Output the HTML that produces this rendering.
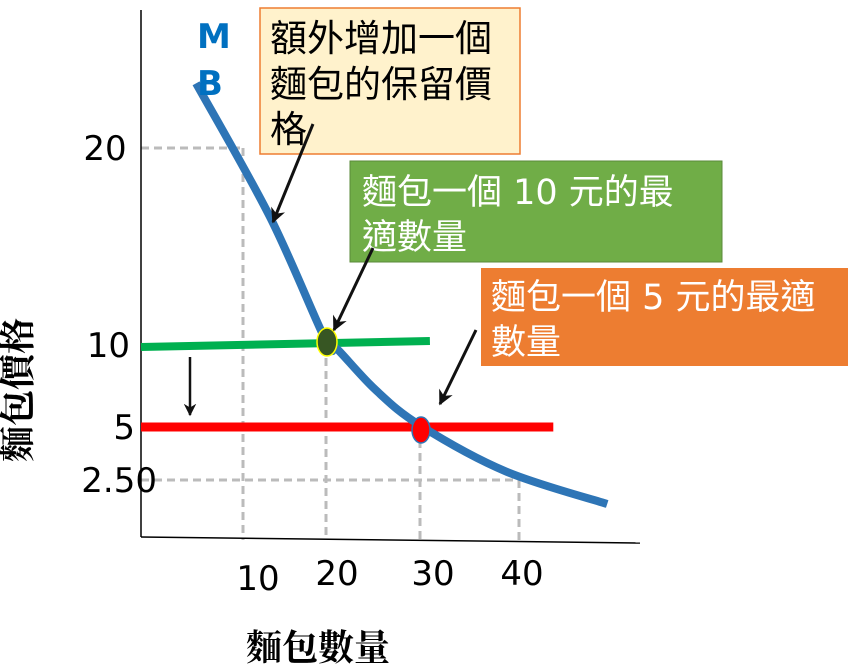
<!DOCTYPE html>
<html><head><meta charset="utf-8"><style>
body{margin:0;background:#fff;width:860px;height:666px;overflow:hidden}
svg text{font-family:"DejaVu Sans","Noto Sans CJK TC",sans-serif}
</style></head><body>
<svg id="c" width="860" height="666">
<defs><marker id="ah" viewBox="0 0 10 10" refX="9" refY="5" markerWidth="5" markerHeight="5" orient="auto"><path d="M0,0 L10,5 L0,10 L3,5z" fill="#111"/></marker></defs>
<g id="grid"></g>
<line x1="141" y1="10" x2="141" y2="537" stroke="#000" stroke-width="1.5"/>
<line x1="141" y1="537" x2="640" y2="543" stroke="#000" stroke-width="1.5"/>
<g id="marks"></g>
<rect x="260" y="8" width="260" height="146" fill="#fff2cc" stroke="#ed7d31" stroke-width="1.5"/>
<text font-size="37" fill="#000"><tspan x="270" y="51">額外增加一個</tspan><tspan x="270" y="97">麵包的保留價</tspan><tspan x="270" y="142">格</tspan></text>
<rect x="350" y="161" width="372" height="101" fill="#70ad47" stroke="#5a8a3a"/>
<text font-size="35" fill="#fff"><tspan x="362" y="204">麵包一個 10 元的最</tspan><tspan x="362" y="249">適數量</tspan></text>
<rect x="481" y="268" width="367" height="98" fill="#ed7d31"/>
<text font-size="35" fill="#fff"><tspan x="491" y="309">麵包一個 5 元的最適</tspan><tspan x="491" y="354">數量</tspan></text>
<text x="197" y="48" font-size="34" font-weight="bold" fill="#0070c0">M</text>
<text x="197" y="95" font-size="34" font-weight="bold" fill="#0070c0">B</text>
<line x1="313" y1="124" x2="273" y2="222" stroke="#111" stroke-width="3" marker-end="url(#ah)"/>
<line x1="373" y1="248" x2="334" y2="330" stroke="#111" stroke-width="3" marker-end="url(#ah)"/>
<line x1="476" y1="330" x2="440" y2="404" stroke="#111" stroke-width="3" marker-end="url(#ah)"/>
<line x1="190" y1="357" x2="190" y2="415" stroke="#111" stroke-width="2.5" marker-end="url(#ah)"/>
<text x="30" y="390" font-size="36" font-weight="bold" text-anchor="middle" transform="rotate(-90 30 390)" style="font-family:'Liberation Serif','Noto Serif CJK SC',serif">麵包價格</text>
<text x="318" y="660" font-size="36" font-weight="bold" text-anchor="middle" style="font-family:'Liberation Serif','Noto Serif CJK SC',serif">麵包數量</text>
</svg>
<script>
const xTicks=[10,20,30,40];
const yTicks=[20,10,5,2.5];
const yTickLabels=["20","10","5","2.50"];
const curveQty=[5.4,13.25,20,21.2,25.3,30,38.7,49];
const curvePrice=[23.3,16.5,10.2,9.75,7.25,5.1,2.9,1.5];
const priceLevels=[10,5];
const priceLineEndQty=[31,43.5];
const optimalQty=[20,30];
// piecewise axis anchors (axis config)
const XA=[[0,141],[10,243],[20,326],[30,420],[40,519],[50,617]];
const YA=[[0,540],[2.5,480],[5,427],[10,345],[20,148],[25,50]];
function interp(A,v){for(let i=0;i<A.length-1;i++){const[a,p]=A[i],[b,q]=A[i+1];if(v<=b||i==A.length-2)return p+(v-a)/(b-a)*(q-p);}}
const X=v=>interp(XA,v),Y=v=>interp(YA,v);
const NS="http://www.w3.org/2000/svg";
function mk(t,at,parent){const e=document.createElementNS(NS,t);for(const k in at)e.setAttribute(k,at[k]);parent.appendChild(e);return e;}
const svg=document.getElementById('c'),grid=document.getElementById('grid'),marks=document.getElementById('marks');
const gridX=[[10,20],[20,10],[30,5],[40,2.5]];
gridX.forEach(([q,p])=>{const l=mk('line',{x1:X(q),y1:Y(p),x2:X(q),y2:540,stroke:'#bbb','stroke-width':3,'stroke-dasharray':'8,5'},grid);

});
[[20,10],[2.5,40]].forEach(([p,q])=>{const l=mk('line',{x1:141,y1:Y(p),x2:X(q),y2:Y(p),stroke:'#bbb','stroke-width':3,'stroke-dasharray':'8,5'},grid);

});
const xLabY=[590,585,585,585];
const xOff=[15,11,13,3];
xTicks.forEach((t,i)=>{const e=mk('text',{x:X(t)+xOff[i],y:xLabY[i],'font-size':34,'text-anchor':'middle'},svg);e.textContent=t;

});
const yLabX=[105,130,135,157];
yTicks.forEach((t,i)=>{const e=mk('text',{x:yLabX[i],y:Y(t)+12,'font-size':34,'text-anchor':i==0?'middle':'end'},svg);e.textContent=yTickLabels[i];

});
const colors=['#00b050','#ff0000'];
priceLevels.forEach((p,i)=>{const l=mk('line',{x1:141,y1:Y(p)+(i==0?2:0),x2:X(priceLineEndQty[i]),y2:Y(p)-(i==0?4:0),stroke:colors[i],'stroke-width':i==0?8:9},marks);

});
let pts=curveQty.map((q,i)=>[X(q),Y(curvePrice[i])]);
let d='M'+pts[0];for(let i=0;i<pts.length-1;i++){const p0=pts[i-1]||pts[i],p1=pts[i],p2=pts[i+1],p3=pts[i+2]||p2;
d+=' C'+(p1[0]+(p2[0]-p0[0])/6)+','+(p1[1]+(p2[1]-p0[1])/6)+' '+(p2[0]-(p3[0]-p1[0])/6)+','+(p2[1]-(p3[1]-p1[1])/6)+' '+p2;}
const c=mk('path',{d:d,fill:'none',stroke:'#2e75b6','stroke-width':8,'stroke-linejoin':'round'},marks);


const df=['#375623','#ff0000'],ds=['#ffff00','#2e75b6'];
optimalQty.forEach((q,i)=>{const e=mk('ellipse',{cx:X(q)+1,cy:Y(priceLevels[i])-3+i*6,rx:i==0?10:9,ry:i==0?14:13,fill:df[i],stroke:ds[i],'stroke-width':1.5},marks);

});
</script>
</body></html>
